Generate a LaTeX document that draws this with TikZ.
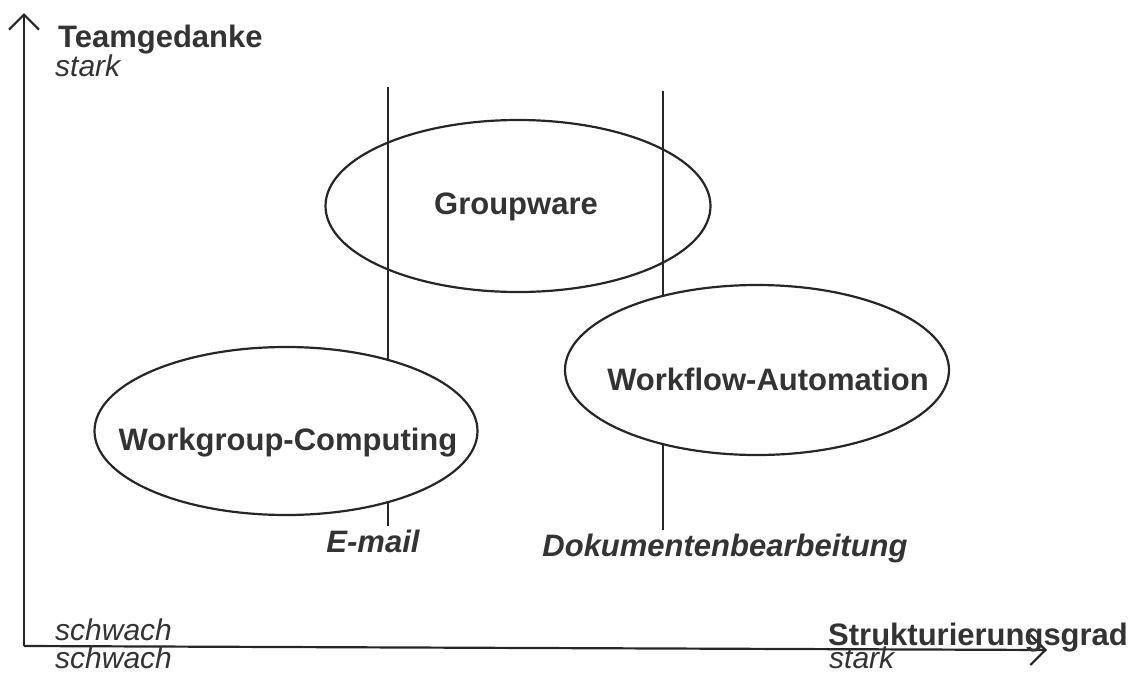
\documentclass[tikz,border=0pt]{standalone}
\usepackage{fontspec}
\setmainfont{Liberation Sans}
\usetikzlibrary{shapes.geometric,arrows.meta}

\begin{document}
\begin{tikzpicture}[x=1pt,y=-1pt,
    every node/.style={text=black!80},
    fett/.style={font=\fontsize{31}{36}\selectfont\bfseries},
    kursiv/.style={font=\fontsize{30}{36}\selectfont\itshape},
    fettkursiv/.style={font=\fontsize{31}{36}\selectfont\bfseries\itshape},
    blase/.style={ellipse, draw=black!85, line width=2.2pt, inner sep=0pt},
    achse/.style={draw=black!85, line width=2.2pt,
      -{Straight Barb[length=15pt,width=30pt,line width=2.2pt]}},
    strich/.style={draw=black!85, line width=2.2pt}]
  \useasboundingbox (0,0) rectangle (1133,675);

  % Achsen
  \coordinate (ursprung) at (24,646);
  \coordinate (yende) at (24,13);
  \coordinate (xende) at (1047,650);
  \draw[achse] (ursprung) -- (yende);
  \draw[achse] (ursprung) -- (xende);

  \node[fett, anchor=base west, inner sep=0pt] (team) at (58,47) {Teamgedanke};
  \node[kursiv, anchor=base west, inner sep=0pt] (teamstark) at (55,76) {stark};
  \node[kursiv, anchor=base west, inner sep=0pt] (xschwach) at (55,640) {schwach};
  \node[kursiv, anchor=base west, inner sep=0pt] (yschwach) at (55,668) {schwach};
  \node[fett, anchor=base west, inner sep=0pt] (struktur) at (828,645) {Strukturierungsgrad};
  \node[kursiv, anchor=base west, inner sep=0pt] (strukstark) at (829,668) {stark};

  % Trennlinien mit Beschriftung
  \node[fettkursiv, anchor=base] (email) at (373,552) {E-mail};
  \node[fettkursiv, anchor=base] (dok) at (725,556) {Dokumentenbearbeitung};
  \coordinate (mailoben) at (388,87);
  \coordinate (dokoben) at (663,91);
  \draw[strich] (mailoben) -- (email.north -| mailoben);
  \draw[strich] (dokoben) -- (dok.north -| dokoben);

  % Bereiche
  \node[blase, minimum width=385pt, minimum height=172pt] (gw) at (518,206) {};
  \node[blase, fill=white, minimum width=383pt, minimum height=168pt] (wgc) at (286,431) {};
  \node[blase, fill=white, minimum width=384pt, minimum height=170pt] (wfa) at (757,370) {};

  \node[fett, anchor=base] (gwtext) at (516,214) {Groupware};
  \node[fett, anchor=base] (wgctext) at (288,450) {Workgroup-Computing};
  \node[fett, anchor=base] (wfatext) at (768,390) {Workflow-Automation};
\end{tikzpicture}
\end{document}
